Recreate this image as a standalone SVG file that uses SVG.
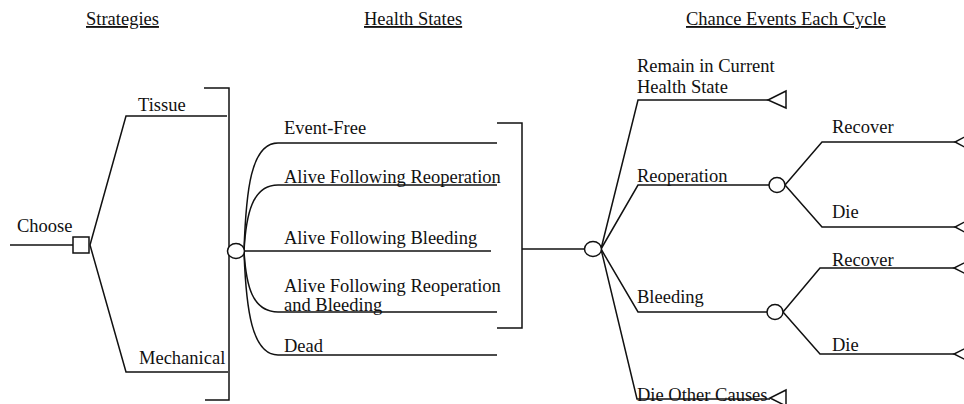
<svg xmlns="http://www.w3.org/2000/svg" width="964" height="404" viewBox="0 0 964 404">
<style>
text{font-family:"Liberation Serif","Times New Roman",Tinos,serif;font-size:18.5px;fill:#111}
.h{text-decoration:underline}
.l{fill:none;stroke:#111;stroke-width:1.5}
.n{fill:#fff;stroke:#111;stroke-width:1.5}
</style>
<rect width="964" height="404" fill="#fff"/>
<g id="headers">
<text class="h" x="86" y="25">Strategies</text>
<text class="h" x="364" y="25">Health States</text>
<text class="h" x="686" y="25">Chance Events Each Cycle</text>
</g>
<g id="connectors" class="l">
<path d="M10,245H73"/>
<path d="M90,245L126,116H227M90,245L126,372H228"/>
<path d="M204,88H229V400H205"/>
<path d="M244,251C246,190 251,143 278,143H497"/>
<path d="M244,251C246,215 252,185 278,185H497"/>
<path d="M244,251H491"/>
<path d="M244,251C246,285 252,312 278,312H497"/>
<path d="M244,251C246,310 252,355 278,355H497"/>
<path d="M497,123H522V328H497"/>
<path d="M522,249H585"/>
<path d="M601,249L638,100H768"/>
<path d="M601,249L638,185H769"/>
<path d="M601,249L638,312H767"/>
<path d="M601,249L637,399H770"/>
<path d="M785,185L822,142H955M785,185L822,227H955"/>
<path d="M783,312L820,268H954M783,312L820,354H954"/>
<path d="M786,91L768,100L786,108Z"/>
<path d="M786,390L770,398L786,406Z"/>
<path d="M972,133L955,142L972,151"/>
<path d="M972,218L955,227L972,236"/>
<path d="M972,259L954,268L972,277"/>
<path d="M972,345L954,354L972,363"/>
</g>
<g id="choose"><rect class="n" x="73" y="237" width="16" height="16"/><text x="17" y="232">Choose</text></g>
<g id="tissue"><text x="138" y="111">Tissue</text></g>
<g id="mechanical"><text x="139" y="364">Mechanical</text></g>
<g id="states-node"><ellipse class="n" cx="236" cy="251" rx="8.5" ry="7.5"/></g>
<g id="event-free"><text x="284" y="134">Event-Free</text></g>
<g id="alive-reop"><text x="284" y="183">Alive Following Reoperation</text></g>
<g id="alive-bleed"><text x="284" y="244">Alive Following Bleeding</text></g>
<g id="alive-reop-bleed"><text x="284" y="292">Alive Following Reoperation</text><text x="284" y="311">and Bleeding</text></g>
<g id="dead"><text x="284" y="352">Dead</text></g>
<g id="chance-node"><ellipse class="n" cx="593" cy="249" rx="8.5" ry="7.5"/></g>
<g id="remain"><text x="637" y="72">Remain in Current</text><text x="637" y="93">Health State</text></g>
<g id="reoperation"><text x="637" y="182">Reoperation</text><ellipse class="n" cx="777" cy="185" rx="8" ry="7.5"/></g>
<g id="reop-recover"><text x="832" y="133">Recover</text></g>
<g id="reop-die"><text x="832" y="218">Die</text></g>
<g id="bleeding"><text x="637" y="303">Bleeding</text><ellipse class="n" cx="775" cy="312" rx="8" ry="7.5"/></g>
<g id="bleed-recover"><text x="832" y="266">Recover</text></g>
<g id="bleed-die"><text x="832" y="351">Die</text></g>
<g id="die-other"><text x="637" y="401">Die Other Causes</text></g>
</svg>
